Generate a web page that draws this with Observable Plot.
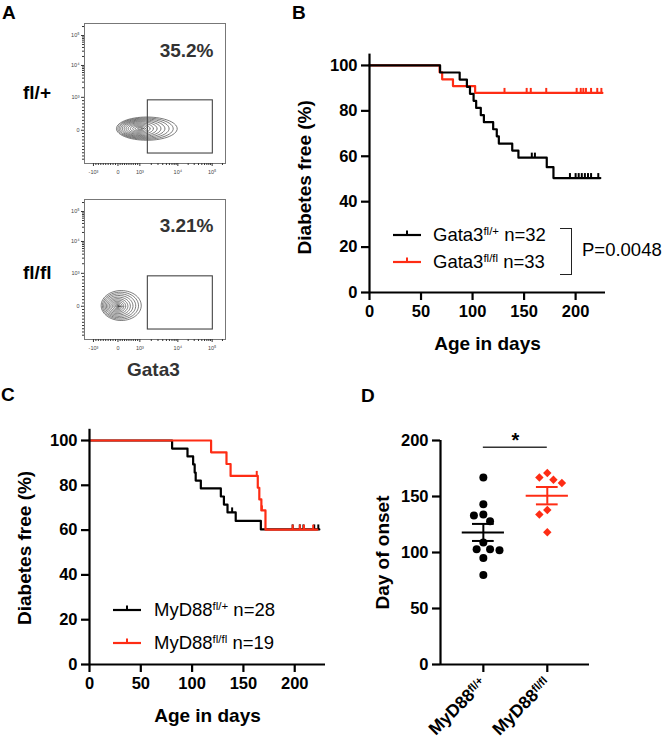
<!DOCTYPE html>
<html><head><meta charset="utf-8">
<script src="https://cdn.jsdelivr.net/npm/d3@7"></script>
<script src="https://cdn.jsdelivr.net/npm/@observablehq/plot@0.6"></script>
<style>
html,body{margin:0;padding:0;background:#fff;}
#fig{position:relative;width:664px;height:742px;overflow:hidden;font-family:"Liberation Sans",Arial,Helvetica,sans-serif;color:#000;}
.plab{font-weight:bold;font-size:19px;line-height:1;white-space:nowrap;}
.leg{font-size:18.5px;line-height:1;white-space:nowrap;}
.leg sup{font-size:0.62em;vertical-align:0.55em;line-height:0;}
</style></head><body><div id="fig"></div>
<script>
// ---------------- DATA ----------------
// Panel A (flow cytometry, channel units 0-1024)
const flowXTickPos = [65, 243, 402, 678, 927];
const flowXTickLab = ["-10³", "0", "10³", "10⁴", "10⁵"];
const flowYTickPos = [243, 484, 717, 936];
const flowYTickLab = ["0", "10³", "10⁴", "10⁵"];
const gateX = [460, 932];
const gateY = [73, 462];
const flowGroups = ["fl/+", "fl/fl"];
const flowPercents = ["35.2%", "3.21%"];
const ringsTopX0 = [232, 242, 252, 263, 275, 288, 302, 317, 333, 350, 368, 386];
const ringsTopX1 = [673, 644, 614, 584, 555, 527, 500, 476, 457, 441, 428, 418];
const ringsTopY0 = [170, 177, 184, 191, 198, 205, 213, 221, 229, 237, 244, 250];
const ringsTopY1 = [340, 333, 326, 319, 312, 305, 297, 289, 281, 273, 266, 260];
const ringsBotX0 = [121, 130, 139, 149, 159, 169, 180, 191, 202, 213, 223, 231, 238];
const ringsBotX1 = [412, 392, 372, 352, 333, 315, 299, 285, 273, 263, 255, 250, 247];
const ringsBotY0 = [139, 149, 159, 169, 179, 189, 199, 208, 217, 225, 232, 237, 241];
const ringsBotY1 = [358, 346, 334, 322, 310, 299, 289, 279, 270, 262, 255, 250, 247];

// Panel B (Gata3) Kaplan-Meier
const gataHetDay  = [0, 68.5, 87.5, 94.5, 97.5, 101, 103.5, 108, 111, 120, 123.5, 125.5, 138.5, 144.5, 172, 178.5, 224];
const gataHetSurv = [100, 96.9, 93.8, 90.6, 87.5, 84.4, 81.3, 78.1, 75, 71.9, 68.8, 65.6, 62.5, 59.4, 55.2, 50.4, 50.4];
const gataHetCensor = [157.5, 160.5, 194.5, 200, 203, 206, 209, 212, 215, 222];
const gataKoDay  = [0, 68, 70.5, 81, 102.5, 226];
const gataKoSurv = [100, 97, 93.9, 90.9, 87.9, 87.9];
const gataKoCensor = [131, 152.5, 156.5, 171.5, 201, 205, 207.5, 210, 215, 221, 225];
const gataLegend = [["Gata3", "fl/+", " n=32"], ["Gata3", "fl/fl", " n=33"]];
const gataP = "P=0.0048";

// Panel C (MyD88) Kaplan-Meier
const myHetDay  = [0, 80.5, 95.5, 101, 102.5, 103.5, 108.5, 128, 131, 134.5, 142.5, 167, 224];
const myHetSurv = [100, 96.4, 92.9, 89.3, 85.7, 82.1, 78.6, 75, 71.4, 67.9, 64.1, 60.3, 60.3];
const myHetCensor = [139, 198, 205, 208.5, 219, 223];
const myKoDay  = [0, 118.5, 133.5, 137.5, 164, 165.5, 167.5, 171.5, 222];
const myKoSurv = [100, 94.7, 89.5, 84.2, 78.9, 73.7, 68.8, 60.2, 60.2];
const myKoCensor = [163, 168, 198, 205, 209, 218];
const myLegend = [["MyD88", "fl/+", " n=28"], ["MyD88", "fl/fl", " n=19"]];

// Panel D (day of onset)
const onsetGroups = ["MyD88^fl/+", "MyD88^fl/fl"];
const onsetHet = [167, 143, 134, 133, 128, 109, 103, 103, 102, 95, 80];
const onsetKo  = [171, 167, 165, 162, 138, 134, 118];
const sigY = 194;
const sigLabel = "*";

const kmXTicks = [0, 50, 100, 150, 200];
const kmYTicks = [0, 20, 40, 60, 80, 100];
const onsetYTicks = [0, 50, 100, 150, 200];

// ---------------- STYLE ----------------
const FONT = "'Liberation Sans', Arial, Helvetica, sans-serif";
const BLACK = "#000";
const RED = "#fe2c14";
const fig = document.getElementById("fig");

function place(el, left, top) {
  el.style.position = "absolute";
  el.style.left = left + "px";
  el.style.top = top + "px";
  fig.appendChild(el);
  return el;
}
function html(s, left, top, cls, extra) {
  const d = document.createElement("div");
  if (cls) d.className = cls;
  d.innerHTML = s;
  if (extra) Object.assign(d.style, extra);
  return place(d, left, top);
}
function supify(svg) {
  svg.querySelectorAll("text").forEach(t => {
    const s = t.textContent;
    if (s.includes("^")) {
      const [a, b] = s.split("^");
      t.textContent = "";
      const ns = "http://www.w3.org/2000/svg";
      const t1 = document.createElementNS(ns, "tspan"); t1.textContent = a;
      const t2 = document.createElementNS(ns, "tspan"); t2.textContent = b;
      t2.setAttribute("dy", "-0.42em"); t2.setAttribute("font-size", "0.64em");
      t.appendChild(t1); t.appendChild(t2);
    }
  });
}

// ---------------- PANEL A ----------------
const flowXMinor = [];
for (let v = -900; v <= 900; v += 100) if (v) flowXMinor.push(v < 0 ? 243 + v / 1000 * (243 - 65) : 243 + v / 1000 * (402 - 243));
for (let m = 2; m <= 9; m++) flowXMinor.push(402 + Math.log10(m) * 276, 678 + Math.log10(m) * 249);
flowXMinor.push(927 + Math.log10(2) * 249);
const flowYMinor = [];
for (let v = -900; v <= 900; v += 100) if (v) flowYMinor.push(v < 0 ? 243 + v / 1000 * 235 : 243 + v / 1000 * (484 - 243));
for (let m = 2; m <= 9; m++) flowYMinor.push(484 + Math.log10(m) * 233, 717 + Math.log10(m) * 219);
flowYMinor.push(936 + Math.log10(2) * 219);

function flowPlot(x0s, x1s, y0s, y1s, pct, pctDy) {
  const pts = [];
  x0s.forEach((x0, i) => {
    const cx = (x0 + x1s[i]) / 2, rx = (x1s[i] - x0) / 2;
    const cy = (y0s[i] + y1s[i]) / 2, ry = (y1s[i] - y0s[i]) / 2;
    for (let k = 0; k < 60; k++) {
      const t = 2 * Math.PI * k / 60;
      pts.push({ring: i, x: cx + rx * Math.cos(t), y: cy + ry * Math.sin(t)});
    }
  });
  const xl = new Map(flowXTickPos.map((p, i) => [p, flowXTickLab[i]]));
  const yl = new Map(flowYTickPos.map((p, i) => [p, flowYTickLab[i]]));
  return Plot.plot({
    width: 175, height: 170, marginLeft: 24, marginRight: 10, marginTop: 8, marginBottom: 22,
    x: {domain: [0, 1024]}, y: {domain: [0, 1024]},
    style: {fontFamily: FONT, fontSize: "5.5px", color: "#444", background: "transparent", overflow: "visible"},
    marks: [
      Plot.line(pts, {x: "x", y: "y", z: "ring", curve: "linear-closed", stroke: "#444", strokeWidth: 0.7}),
      Plot.rect([0], {x1: () => gateX[0], x2: () => gateX[1], y1: () => gateY[0], y2: () => gateY[1], fill: "none", stroke: "#444", strokeWidth: 1.1}),
      Plot.frame({stroke: "#777", strokeWidth: 1}),
      Plot.axisX({ticks: flowXTickPos, tickFormat: d => xl.get(d), tickSize: 3, tickPadding: 4, stroke: "#333", label: null}),
      Plot.axisX({ticks: flowXMinor, tickFormat: () => "", tickSize: 2, stroke: "#333", label: null}),
      Plot.axisY({ticks: flowYTickPos, tickFormat: d => yl.get(d), tickSize: 3, tickPadding: 2, stroke: "#333", label: null}),
      Plot.axisY({ticks: flowYMinor, tickFormat: () => "", tickSize: 2, stroke: "#333", label: null}),
      Plot.text([pct], {frameAnchor: "top-right", textAnchor: "end", lineAnchor: "middle", dx: -12, dy: pctDy, fontSize: 19, fontWeight: "bold", fill: "#333"})
    ]
  });
}
place(flowPlot(ringsTopX0, ringsTopX1, ringsTopY0, ringsTopY1, flowPercents[0], 27.5), 60, 15);
place(flowPlot(ringsBotX0, ringsBotX1, ringsBotY0, ringsBotY1, flowPercents[1], 26.5), 60, 191);
html("A", 2, 2.5, "plab");
html(flowGroups[0], 23, 82.5, "plab");
html(flowGroups[1], 23, 262.5, "plab");
html("Gata3", 127, 359.5, "plab", {color: "#333"});

// ---------------- KM PLOTS ----------------
function steps(days, surv) { return days.map((d, i) => ({day: d, surv: surv[i]})); }
function survAt(st, t) { let s = st[0].surv; for (const p of st) if (p.day <= t) s = p.surv; return s; }
function censors(st, times) { return times.map(t => ({day: t, surv: survAt(st, t)})); }

function kmPlot(cfg) {
  const het = steps(cfg.hetDay, cfg.hetSurv), ko = steps(cfg.koDay, cfg.koSurv);
  const hc = censors(het, cfg.hetCens), kc = censors(ko, cfg.koCens);
  const layer = (data, cens, color) => [
    Plot.line(data, {x: "day", y: "surv", curve: "step-after", stroke: color, strokeWidth: 2.2}),
    Plot.ruleX(cens, {x: "day", y1: "surv", y2: "surv", insetTop: -4.5, insetBottom: -0.8, stroke: color, strokeWidth: 2})
  ];
  const curves = cfg.koOnTop ? [...layer(het, hc, BLACK), ...layer(ko, kc, RED)] : [...layer(ko, kc, RED), ...layer(het, hc, BLACK)];
  return Plot.plot({
    width: cfg.w, height: cfg.h, marginLeft: cfg.ml, marginRight: cfg.mr, marginTop: cfg.mt, marginBottom: cfg.mb,
    x: {domain: [0, cfg.xMax]}, y: {domain: [0, 105]},
    style: {fontFamily: FONT, fontSize: "16.5px", fontWeight: "bold", color: "#000", background: "transparent", overflow: "visible"},
    marks: [
      ...curves,
      Plot.ruleY([0], {stroke: BLACK, strokeWidth: 2.2}),
      Plot.ruleX([0], {stroke: BLACK, strokeWidth: 2.2}),
      Plot.axisX({ticks: kmXTicks, tickSize: 8, tickPadding: 5, strokeWidth: 2.2, label: null}),
      Plot.axisY({ticks: kmYTicks, tickSize: 8, tickPadding: 4, strokeWidth: 2.2, label: null}),
      Plot.text(["Age in days"], {frameAnchor: "bottom", textAnchor: "middle", lineAnchor: "middle", dy: 51, fontSize: 19, fontWeight: "bold"}),
      Plot.text(["Diabetes free (%)"], {frameAnchor: "left", textAnchor: "middle", lineAnchor: "middle", rotate: -90, dx: -65, dy: cfg.yLabDy, fontSize: 19, fontWeight: "bold"})
    ]
  });
}
function swatch(color) {
  return `<svg width="28" height="14" style="display:block"><line x1="0" x2="28" y1="9" y2="9" stroke="${color}" stroke-width="2.2"/><line x1="14" x2="14" y1="4.5" y2="9.8" stroke="${color}" stroke-width="2"/></svg>`;
}
function legendRow(parts, color, sx, tx, cy) {
  html(swatch(color), sx, cy - 9);
  html(`${parts[0]}<sup>${parts[1]}</sup>${parts[2]}`, tx, cy - 9, "leg");
}

// Panel B
place(kmPlot({hetDay: gataHetDay, hetSurv: gataHetSurv, hetCens: gataHetCensor,
  koDay: gataKoDay, koSurv: gataKoSurv, koCens: gataKoCensor,
  xMax: 229, w: 340, h: 315, ml: 69, mr: 35, mt: 13.6, mb: 63, koOnTop: false, yLabDy: 4}), 300, 40);
html("B", 292, 2.5, "plab");
legendRow(gataLegend[0], BLACK, 393, 433, 235);
legendRow(gataLegend[1], RED, 393, 433, 262);
html("", 560, 228, "", {width: "11px", height: "45px", borderTop: "1.5px solid #222", borderRight: "1.5px solid #222", borderBottom: "1.5px solid #222"});
html(gataP, 582, 241, "leg");

// Panel C
place(kmPlot({hetDay: myHetDay, hetSurv: myHetSurv, hetCens: myHetCensor,
  koDay: myKoDay, koSurv: myKoSurv, koCens: myKoCensor,
  xMax: 230, w: 340, h: 330, ml: 89, mr: 15, mt: 28.8, mb: 66, koOnTop: true, yLabDy: 1}), 0, 400);
html("C", 1, 384.5, "plab");
legendRow(myLegend[0], BLACK, 113, 154, 610);
legendRow(myLegend[1], RED, 113, 154, 642.7);

// ---------------- PANEL D ----------------
(function () {
  const xDom = [0.33, 2.66];
  const W = 334, H = 342, ml = 110, mr = 75, mt = 40, mb = 78;
  const unit = (W - ml - mr) / (xDom[1] - xDom[0]);
  const mid = (xDom[0] + xDom[1]) / 2;
  const groups = [
    {g: 1, vals: onsetHet, color: BLACK, symbol: "circle", r: 4},
    {g: 2, vals: onsetKo, color: RED, symbol: "diamond2", r: 3.8}
  ];
  const marks = [];
  for (const s of groups) {
    const m = d3.mean(s.vals), se = d3.deviation(s.vals) / Math.sqrt(s.vals.length);
    marks.push(
      Plot.dot(s.vals.map(v => ({v})), Plot.dodgeX({anchor: "middle", padding: 1.5}, {y: "v", r: s.r, symbol: s.symbol, fill: s.color, stroke: "none", dx: (s.g - mid) * unit})),
      Plot.ruleY([m], {x1: s.g - 0.33, x2: s.g + 0.33, stroke: s.color, strokeWidth: 2}),
      Plot.ruleY([m - se, m + se], {x1: s.g - 0.17, x2: s.g + 0.17, stroke: s.color, strokeWidth: 2}),
      Plot.ruleX([s.g], {y1: m - se, y2: m + se, stroke: s.color, strokeWidth: 2})
    );
  }
  const xl = new Map([[1, onsetGroups[0]], [2, onsetGroups[1]]]);
  const svg = Plot.plot({
    width: W, height: H, marginLeft: ml, marginRight: mr, marginTop: mt, marginBottom: mb,
    x: {domain: xDom}, y: {domain: [0, 200]},
    style: {fontFamily: FONT, fontSize: "16.5px", fontWeight: "bold", color: "#000", background: "transparent", overflow: "visible"},
    marks: [
      ...marks,
      Plot.ruleY([sigY], {x1: 1, x2: 2, stroke: "#333", strokeWidth: 1.5}),
      Plot.text([sigLabel], {x: 1.5, y: sigY, dy: -7, fontSize: 20, fontWeight: "bold", lineAnchor: "middle"}),
      Plot.ruleY([0], {stroke: BLACK, strokeWidth: 2.2}),
      Plot.ruleX([xDom[0]], {stroke: BLACK, strokeWidth: 2.2}),
      Plot.axisY({ticks: onsetYTicks, tickSize: 8, tickPadding: 4, strokeWidth: 2.2, label: null}),
      Plot.axisX({ticks: [1, 2], tickFormat: d => xl.get(d), tickSize: 8, tickPadding: 8, tickRotate: -45, fontSize: 17.5, strokeWidth: 2.2, label: null}),
      Plot.text(["Day of onset"], {frameAnchor: "left", textAnchor: "middle", lineAnchor: "middle", rotate: -90, dx: -58, fontSize: 19, fontWeight: "bold"})
    ]
  });
  supify(svg);
  place(svg, 330, 400);
  html("D", 361, 385.5, "plab");
})();
</script>
</body></html>
